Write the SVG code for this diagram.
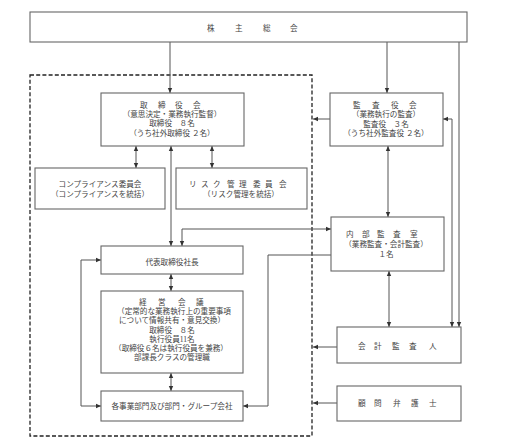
<svg xmlns="http://www.w3.org/2000/svg" width="510" height="447" viewBox="0 0 510 447">
<style>
.box{fill:#fff;stroke:#666;stroke-width:1.1}
.t{font-family:"Liberation Serif","Noto Sans CJK JP",serif;font-size:7.6px;fill:#444;text-anchor:middle}
.ts{font-family:"Liberation Serif","Noto Sans CJK JP",serif;font-size:7.6px;fill:#444}
.c{fill:none;stroke:#555;stroke-width:1}
</style>
<defs>
<marker id="a" markerUnits="userSpaceOnUse" markerWidth="6" markerHeight="6" refX="5" refY="3" orient="auto-start-reverse">
<path d="M0,0.8 L5,3 L0,5.2 Z" fill="#333"/>
</marker>
</defs>
<rect width="510" height="447" fill="#fff"/>
<rect x="30" y="75" width="282" height="361" fill="none" stroke="#222" stroke-width="1.3" stroke-dasharray="4,2.2"/>
<g id="connectors">
<path class="c" d="M170,42V93" marker-end="url(#a)"/>
<path class="c" d="M387,42V93" marker-end="url(#a)"/>
<path class="c" d="M459,42V327" marker-end="url(#a)"/>
<path class="c" d="M136,146V168" marker-start="url(#a)" marker-end="url(#a)"/>
<path class="c" d="M212,146V168" marker-start="url(#a)" marker-end="url(#a)"/>
<path class="c" d="M171,146V246" marker-start="url(#a)" marker-end="url(#a)"/>
<path class="c" d="M330,119H313" marker-end="url(#a)"/>
<path class="c" d="M388,146V217" marker-start="url(#a)" marker-end="url(#a)"/>
<path class="c" d="M443,119H452V327" marker-start="url(#a)" marker-end="url(#a)"/>
<path class="c" d="M331,229H182V246" marker-start="url(#a)" marker-end="url(#a)"/>
<path class="c" d="M331,255H268V406H243" marker-end="url(#a)"/>
<path class="c" d="M101,260H81V406H101" marker-start="url(#a)" marker-end="url(#a)"/>
<path class="c" d="M171,274V291" marker-start="url(#a)" marker-end="url(#a)"/>
<path class="c" d="M171,373V391" marker-start="url(#a)" marker-end="url(#a)"/>
<path class="c" d="M389,271V327" marker-start="url(#a)" marker-end="url(#a)"/>
<path class="c" d="M337,347H313" marker-end="url(#a)"/>
<path class="c" d="M337,403H313" marker-end="url(#a)"/>
</g>
<g id="kabunushi">
<rect class="box" x="30" y="12" width="437" height="30"/>
<text class="ts" x="207 235 263 290" y="30.5">株主総会</text>
</g>
<g id="torishimariyakukai">
<rect class="box" x="101" y="93" width="143" height="53"/>
<text class="ts" x="140 158 175 193" y="107.5">取締役会</text>
<text class="t" x="172" y="117">（意思決定・業務執行監督）</text>
<text class="t" x="172" y="126">取締役　８名</text>
<text class="t" x="172" y="135.5">（うち社外取締役 ２名）</text>
</g>
<g id="kansayakukai">
<rect class="box" x="330" y="93" width="113" height="53"/>
<text class="ts" x="353 372 391 409" y="107.5">監査役会</text>
<text class="t" x="386" y="117">（業務執行の監査）</text>
<text class="t" x="386" y="126.5">監査役　３名</text>
<text class="t" x="386" y="135.5">（うち社外監査役 ２名）</text>
</g>
<g id="compliance">
<rect class="box" x="35" y="168" width="130" height="41"/>
<text class="t" x="100" y="186.5">コンプライアンス委員会</text>
<text class="t" x="100" y="196.5">（コンプライアンスを統括）</text>
</g>
<g id="risk">
<rect class="box" x="176" y="168" width="131" height="41"/>
<text class="ts" x="189 201 213 227 239 253 265 279" y="186.5">リスク管理委員会</text>
<text class="t" x="241" y="196.5">（リスク管理を統括）</text>
</g>
<g id="naibu">
<rect class="box" x="331" y="217" width="113" height="54"/>
<text class="ts" x="346 362 377 393 410" y="236.5">内部監査室</text>
<text class="t" x="386" y="246.5">（業務監査・会計監査）</text>
<text class="t" x="386" y="256.5">１名</text>
</g>
<g id="daihyo">
<rect class="box" x="101" y="246" width="142" height="28"/>
<text class="t" x="172" y="264.5">代表取締役社長</text>
</g>
<g id="keiei">
<rect class="box" x="101" y="291" width="142" height="82"/>
<text class="ts" x="139 158 178 196" y="304.5">経営会議</text>
<text class="t" x="174" y="314">（定常的な業務執行上の重要事項</text>
<text class="t" x="172" y="323">について情報共有・意見交換）</text>
<text class="t" x="172" y="332.5">取締役　８名</text>
<text class="t" x="172" y="341.5">執行役員11名</text>
<text class="t" x="171" y="351">（取締役６名は執行役員を兼務）</text>
<text class="t" x="172" y="360">部課長クラスの管理職</text>
</g>
<g id="jigyobu">
<rect class="box" x="101" y="391" width="142" height="30"/>
<text class="t" x="172" y="408.5">各事業部門及び部門・グループ会社</text>
</g>
<g id="kaikei">
<rect class="box" x="337" y="327" width="124" height="36"/>
<text class="ts" x="358 374 392 409 429" y="348.5">会計監査人</text>
</g>
<g id="komon">
<rect class="box" x="337" y="386" width="124" height="35"/>
<text class="ts" x="358 374 393 411 429" y="405.5">顧問弁護士</text>
</g>
</svg>
